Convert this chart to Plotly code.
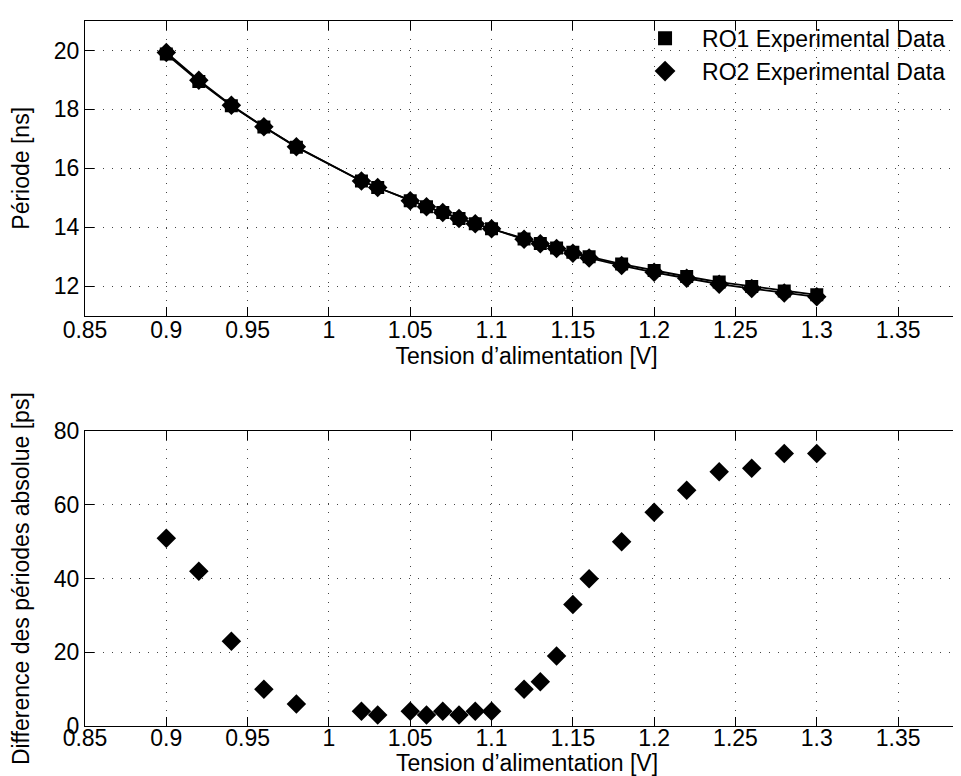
import plotly.graph_objects as go
from plotly.subplots import make_subplots

# ------------------ donnees ------------------
tension = [0.90, 0.92, 0.94, 0.96, 0.98, 1.02, 1.03, 1.05, 1.06, 1.07, 1.08, 1.09, 1.10,
           1.12, 1.13, 1.14, 1.15, 1.16, 1.18, 1.20, 1.22, 1.24, 1.26, 1.28, 1.30]

ro1_periode = [19.88, 18.95, 18.12, 17.40, 16.72, 15.57, 15.35, 14.90, 14.70, 14.50, 14.30, 14.12, 13.95,
               13.60, 13.45, 13.30, 13.15, 13.00, 12.75, 12.53, 12.33, 12.14, 11.99, 11.84, 11.71]
ro2_periode = [19.93, 18.99, 18.14, 17.41, 16.73, 15.57, 15.35, 14.90, 14.70, 14.50, 14.30, 14.12, 13.95,
               13.59, 13.44, 13.28, 13.12, 12.96, 12.70, 12.47, 12.27, 12.07, 11.92, 11.77, 11.64]

diff_ps = [51, 42, 23, 10, 6, 4, 3, 4, 3, 4, 3, 4, 4,
           10, 12, 19, 33, 40, 50, 58, 64, 69, 70, 74, 74]

x_ticks = [0.85, 0.9, 0.95, 1, 1.05, 1.1, 1.15, 1.2, 1.25, 1.3, 1.35]
x_ticktext = ["0.85", "0.9", "0.95", "1", "1.05", "1.1", "1.15", "1.2", "1.25", "1.3", "1.35"]
y1_ticks = [12, 14, 16, 18, 20]
y2_ticks = [0, 20, 40, 60, 80]

FONT = "Liberation Sans, Arial, sans-serif"
FS = 23
XTITLE = "Tension d’alimentation [V]"

fig = make_subplots(rows=2, cols=1)

# courbes du haut (lignes + marqueurs)
fig.add_trace(go.Scatter(
    x=tension, y=ro1_periode, mode='lines+markers',
    line=dict(color='black', width=1.8),
    marker=dict(symbol='square', size=13, color='black'),
    showlegend=False
), row=1, col=1)
fig.add_trace(go.Scatter(
    x=tension, y=ro2_periode, mode='lines+markers',
    line=dict(color='black', width=1.8),
    marker=dict(symbol='diamond', size=15, color='black'),
    showlegend=False
), row=1, col=1)

# entrees de legende (marqueurs seuls)
fig.add_trace(go.Scatter(
    x=[None], y=[None], mode='markers', name='RO1 Experimental Data',
    marker=dict(symbol='square', size=14, color='black')
), row=1, col=1)
fig.add_trace(go.Scatter(
    x=[None], y=[None], mode='markers', name='RO2 Experimental Data',
    marker=dict(symbol='diamond', size=16, color='black')
), row=1, col=1)

# difference absolue
fig.add_trace(go.Scatter(
    x=tension, y=diff_ps, mode='markers',
    marker=dict(symbol='diamond', size=15, color='black'),
    showlegend=False
), row=2, col=1)

axis_style = dict(
    showline=True, linecolor='black', linewidth=1, mirror='ticks',
    ticks='inside', ticklen=9, tickcolor='black', tickwidth=1,
    showgrid=True, gridcolor='#444444', gridwidth=1, griddash='1px,8px',
    zeroline=False,
    tickfont=dict(family=FONT, size=FS, color='black'),
)

fig.update_xaxes(
    range=[0.85, 1.393], tickvals=x_ticks, ticktext=x_ticktext,
    ticklabelstandoff=-6,
    title=dict(text=XTITLE, font=dict(family=FONT, size=FS, color='black'), standoff=0),
    row=1, col=1, **axis_style
)
fig.update_xaxes(
    range=[0.85, 1.393], tickvals=x_ticks, ticktext=x_ticktext,
    ticklabelstandoff=-9,
    row=2, col=1, **axis_style
)

fig.update_yaxes(
    range=[11, 21], tickvals=y1_ticks,
    title=dict(text="Période [ns]", font=dict(family=FONT, size=FS, color='black'), standoff=20),
    row=1, col=1, **axis_style
)
fig.update_yaxes(
    range=[0, 80], tickvals=y2_ticks,
    title=dict(text="Difference des périodes absolue [ps]", font=dict(family=FONT, size=FS, color='black'), standoff=20),
    row=2, col=1, **axis_style
)

# titre de l'axe x du bas, place a la main pour ne pas etre coupe
fig.add_annotation(
    text=XTITLE, xref='paper', yref='paper', x=0.5, y=-0.052,
    xanchor='center', yanchor='middle', showarrow=False,
    font=dict(family=FONT, size=FS, color='black')
)

fig.update_layout(
    width=961, height=776,
    margin=dict(l=77, r=1, t=13, b=58),
    plot_bgcolor='white', paper_bgcolor='white',
    font=dict(family=FONT, size=FS, color='black'),
    legend=dict(
        x=0.615, y=1.006, xanchor='left', yanchor='top',
        bgcolor='rgba(0,0,0,0)', borderwidth=0,
        font=dict(family=FONT, size=FS, color='black'),
        itemwidth=64, tracegroupgap=0
    ),
)
fig.update_layout(
    xaxis=dict(domain=[0, 1]), xaxis2=dict(domain=[0, 1]),
    yaxis=dict(domain=[0.582, 1.0]), yaxis2=dict(domain=[0.0, 0.418]),
)

fig.write_html("out.html")
